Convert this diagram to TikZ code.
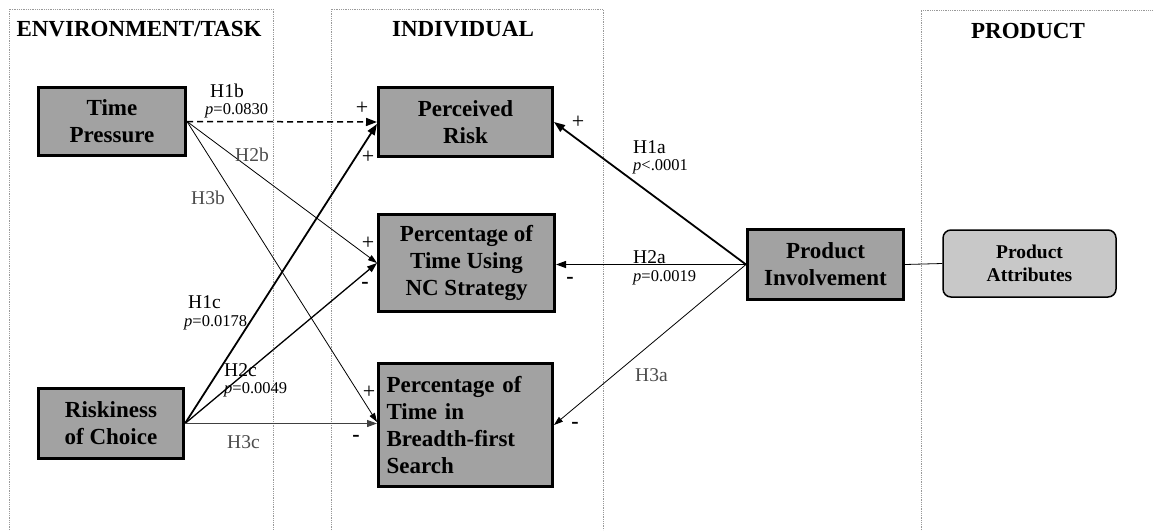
\documentclass[tikz,border=0pt]{standalone}
\usepackage{fontspec}
\setmainfont{Liberation Serif}
\usetikzlibrary{arrows.meta}
\definecolor{boxgray}{HTML}{A2A2A2}
\definecolor{attrgray}{HTML}{C8C8C8}
\begin{document}
\begin{tikzpicture}[x=1pt,y=-1pt,
  panel/.style={draw=gray!80, densely dotted, line width=0.8pt},
  title/.style={font=\fontsize{23}{27}\selectfont\bfseries},
  box/.style={draw=black, line width=3pt, fill=boxgray, font=\fontsize{23}{27}\selectfont\bfseries, align=center, inner sep=0pt},
  attr/.style={draw=black, line width=1.5pt, rounded corners=8pt, fill=attrgray, font=\fontsize{19.5}{23}\selectfont\bfseries, align=center, inner sep=0pt},
  hlab/.style={font=\fontsize{19.5}{22}\selectfont, anchor=west, inner sep=0pt},
  hlight/.style={hlab, text=black!70},
  plab/.style={font=\fontsize{16.5}{18}\selectfont, anchor=west, inner sep=0pt},
  sign/.style={font=\fontsize{22}{24}\selectfont, inner sep=0pt},
  minus/.style={font=\fontsize{22}{24}\selectfont\bfseries, inner sep=0pt},
  thickarr/.style={line width=1.8pt, -{Triangle[length=11pt,width=8pt]}},
  medarr/.style={line width=1.3pt, -{Triangle[length=10pt,width=7pt]}},
  thinarr/.style={line width=0.8pt, -{Triangle[length=9pt,width=6pt]}},
]
\useasboundingbox (0,0) rectangle (1153,530);
\fill[white] (0,0) rectangle (1153,530);

% panels
\draw[panel] (9,530) -- (9,9) -- (273,9) -- (273,530);
\draw[panel] (331,530) -- (331,9) -- (603,9) -- (603,530);
\draw[panel] (921,530) -- (921,10) -- (1153,10);

% titles
\node[title] (t1) at (139,29) {ENVIRONMENT/TASK};
\node[title] (t2) at (463,29) {INDIVIDUAL};
\node[title] (t3) at (1028,31) {PRODUCT};

% boxes
\node[box, minimum width=147pt, minimum height=68pt] (tp) at (112,121.5) {Time\\Pressure};
\node[box, minimum width=174pt, minimum height=69pt] (pr) at (465.5,122) {Perceived\\Risk};
\node[box, minimum width=176pt, minimum height=97pt] (nc) at (466.5,263) {Percentage of\\Time Using\\NC Strategy};
\node[box, minimum width=174pt, minimum height=123pt, align=left, text width=158pt] (bf) at (465.5,425) {Percentage of\\Time in\\Breadth-first\\Search};
\node[box, minimum width=145pt, minimum height=70pt] (rc) at (111,423.5) {Riskiness\\of Choice};
\node[box, minimum width=156pt, minimum height=70pt] (pi) at (825.5,264.5) {Product\\Involvement};
\node[attr, minimum width=173pt, minimum height=67pt] (pa) at (1029.5,263.5) {Product\\Attributes};

% connectors
\draw[line width=1.5pt, dash pattern=on 6pt off 4pt, -{Triangle[length=11pt,width=8pt]}] (tp.east) -- (pr.west);
\draw[thinarr] (tp.east) -- (nc.west);
\draw[thinarr] (tp.east) -- ([yshift=3pt]bf.west);
\draw[thickarr] (rc.east) -- ([yshift=-2pt]pr.west);
\draw[medarr] (rc.east) -- (nc.west);
\draw[line width=1pt, draw=black!75, -{Triangle[length=10pt,width=7pt]}] (rc.east) -- (rc.east -| bf.west);
\draw[thickarr] (pi.west) -- (pr.east);
\draw[medarr] (pi.west) -- (pi.west -| nc.east);
\draw[thinarr] (pi.west) -- (bf.east);
\draw[line width=0.8pt] (pi.east) -- (pa.west);

% labels
\node[hlab] (l1b) at (210,91) {H1b};
\node[plab] (p1b) at (205,111) {\textit{p}=0.0830};
\node[hlight] (l2b) at (235,155) {H2b};
\node[hlight] (l3b) at (191,198) {H3b};
\node[hlab] (l1c) at (188,302) {H1c};
\node[plab] (p1c) at (184,323) {\textit{p}=0.0178};
\node[hlab] (l2c) at (224,370) {H2c};
\node[plab] (p2c) at (224,390) {\textit{p}=0.0049};
\node[hlight] (l3c) at (227,442) {H3c};
\node[hlab] (l1a) at (633,147) {H1a};
\node[plab] (p1a) at (633,167) {\textit{p}<.0001};
\node[hlab] (l2a) at (633,257) {H2a};
\node[plab] (p2a) at (633,278) {\textit{p}=0.0019};
\node[hlight] (l3a) at (635,375) {H3a};

% signs
\node[sign] (s1) at (362,108) {+};
\node[sign] (s2) at (368,157) {+};
\node[sign] (s3) at (578,122) {+};
\node[sign] (s4) at (368,243) {+};
\node[minus] (s5) at (365,285) {-};
\node[minus] (s6) at (570,280) {-};
\node[sign] (s7) at (369,392) {+};
\node[minus] (s8) at (356,438) {-};
\node[minus] (s9) at (575,425) {-};
\end{tikzpicture}
\end{document}
